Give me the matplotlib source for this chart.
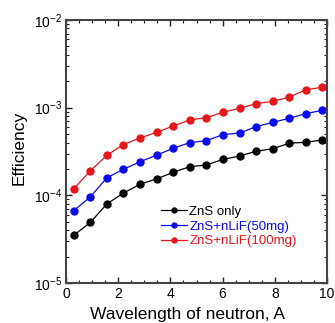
import numpy as np
import matplotlib
matplotlib.use('Agg')
import matplotlib.pyplot as plt
from matplotlib.ticker import LogLocator, MultipleLocator, NullFormatter

plt.rcParams['font.family'] = ['Liberation Sans', 'DejaVu Sans']
plt.rcParams['mathtext.fontset'] = 'custom'
plt.rcParams['mathtext.rm'] = 'Liberation Sans'
plt.rcParams['mathtext.default'] = 'regular'

# wavelength of neutron (A)
wavelength = [0.3, 0.93, 1.57, 2.2, 2.84, 3.47, 4.11, 4.74, 5.38, 6.01,
              6.65, 7.28, 7.92, 8.55, 9.19, 9.82]

zns_only = [3.5e-5, 4.9e-5, 8.0e-5, 1.06e-4, 1.34e-4, 1.54e-4, 1.83e-4, 2.12e-4,
            2.22e-4, 2.57e-4, 2.81e-4, 3.18e-4, 3.40e-4, 3.93e-4, 4.03e-4, 4.28e-4]
zns_lif50 = [6.7e-5, 9.6e-5, 1.59e-4, 1.98e-4, 2.42e-4, 2.87e-4, 3.44e-4, 3.99e-4,
             4.21e-4, 4.92e-4, 5.14e-4, 6.07e-4, 6.8e-4, 7.56e-4, 8.55e-4, 9.33e-4]
zns_lif100 = [1.19e-4, 1.9e-4, 2.87e-4, 3.79e-4, 4.52e-4, 5.23e-4, 6.18e-4, 7.24e-4,
              7.69e-4, 8.86e-4, 9.84e-4, 1.11e-3, 1.18e-3, 1.32e-3, 1.6e-3, 1.71e-3]

labels = ['ZnS only', 'ZnS+nLiF(50mg)', 'ZnS+nLiF(100mg)']
colors = ['black', '#0a0aee', '#e8161a']

fig = plt.figure(figsize=(3.35, 3.23), dpi=100)
ax = fig.add_axes([66 / 335, 40 / 323, 261 / 335, 263 / 323])

for ys, lab, c in zip([zns_only, zns_lif50, zns_lif100], labels, colors):
    ax.plot(wavelength, ys, '-o', color=c, lw=0.9, ms=5, label=lab)

ax.set_yscale('log')
ax.set_xlim(0, 10)
ax.set_ylim(1e-5, 1e-2)
ax.xaxis.set_major_locator(MultipleLocator(2))
ax.xaxis.set_minor_locator(MultipleLocator(0.5))
ax.yaxis.set_major_locator(LogLocator(base=10, numticks=10))
ax.yaxis.set_minor_locator(LogLocator(base=10, subs=np.arange(2, 10), numticks=10))
ax.yaxis.set_minor_formatter(NullFormatter())

ax.tick_params(which='both', direction='in', top=True, right=True,
               labelsize=10, colors='#222222', labelcolor='black')
ax.tick_params(which='major', length=4, width=1, pad=3)
ax.tick_params(which='minor', length=2.5, width=0.8)
for s in ax.spines.values():
    s.set_color('#444444')
    s.set_linewidth(1.5)

ax.set_xlabel('Wavelength of neutron, A', fontsize=12.5, labelpad=4, x=0.467)
ax.set_ylabel('Efficiency', fontsize=12.5, labelpad=5, y=0.515)

leg = ax.legend(loc='upper left', bbox_to_anchor=(0.364, 0.295), frameon=False,
                fontsize=9.5, markerscale=0.7, handlelength=2.0,
                handletextpad=0.15, labelspacing=0.2, borderaxespad=0,
                borderpad=0)
for txt, c in zip(leg.get_texts(), colors):
    txt.set_color(c)

fig.savefig('out.png', dpi=100)
